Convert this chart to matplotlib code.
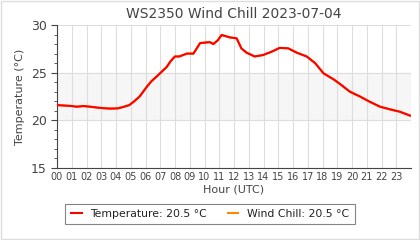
import numpy as np
import matplotlib
matplotlib.use('Agg')
import matplotlib.pyplot as plt
from matplotlib.ticker import MultipleLocator

# readings (hour of day, temperature in deg C)
hours = [0.0, 0.5, 1.0, 1.33, 1.8, 2.4, 2.92, 3.6, 4.1, 4.5, 4.9, 5.2, 5.6,
         6.08, 6.4, 6.76, 7.1, 7.44, 7.7, 8.0, 8.3, 8.8, 9.25, 9.7, 10.0,
         10.37, 10.6, 10.9, 11.16, 11.5, 11.73, 12.18, 12.5, 12.85, 13.4,
         13.97, 14.55, 15.1, 15.68, 16.25, 16.93, 17.5, 18.07, 18.75, 19.2,
         19.86, 20.54, 21.2, 21.9, 22.58, 23.25, 23.93]
temperature = [21.6, 21.55, 21.5, 21.43, 21.5, 21.4, 21.3, 21.23, 21.25, 21.4,
               21.6, 21.95, 22.5, 23.5, 24.1, 24.6, 25.1, 25.6, 26.2, 26.7,
               26.7, 27.0, 27.0, 28.1, 28.15, 28.2, 28.0, 28.4, 28.95, 28.8,
               28.7, 28.6, 27.55, 27.1, 26.7, 26.85, 27.2, 27.6, 27.55, 27.1,
               26.7, 26.0, 24.93, 24.3, 23.8, 23.0, 22.5, 21.95, 21.43, 21.15,
               20.9, 20.5]
wind_chill = list(temperature)
hour_labels = ['%02d' % h for h in range(24)]

fig = plt.figure(figsize=(4.2, 2.4), dpi=100)
ax = fig.add_axes([57 / 420, 1 - 168 / 240, 354 / 420, 143 / 240])

ax.axhspan(20, 25, color='#f6f6f6', zorder=0)
ax.plot(hours, wind_chill, color='#ff8800', lw=1.5, zorder=2,
        label='Wind Chill: %.1f °C' % wind_chill[-1])
ax.plot(hours, temperature, color='#ff0000', lw=1.5, zorder=3,
        label='Temperature: %.1f °C' % temperature[-1])

ax.set_xlim(0, 24)
ax.set_ylim(15, 30)
ax.set_xticks(range(24))
ax.set_xticklabels(hour_labels, fontsize=7, color='#444444')
ax.set_yticks([15, 20, 25, 30])
ax.yaxis.set_minor_locator(MultipleLocator(1))
ax.tick_params(axis='y', labelsize=9, colors='#444444', length=4)
ax.tick_params(axis='y', which='minor', length=2, color='#444444')
ax.tick_params(axis='x', length=0, pad=3)
ax.grid(True, axis='x', color='#dddddd', lw=0.8)
ax.grid(True, axis='y', color='#dddddd', lw=0.8)
ax.set_axisbelow(True)
for s in ['top', 'right']:
    ax.spines[s].set_visible(False)
for s in ['left', 'bottom']:
    ax.spines[s].set_color('#444444')

ax.set_xlabel('Hour (UTC)', fontsize=8, color='#444444', labelpad=2)
ax.set_ylabel('Temperature (°C)', fontsize=8, color='#444444')
ax.set_title('WS2350 Wind Chill 2023-07-04', fontsize=10, color='#444444', pad=5)

h, l = ax.get_legend_handles_labels()
leg = fig.legend(h[::-1], l[::-1], loc='center', bbox_to_anchor=(210 / 420, 1 - 214 / 240),
                 ncol=2, fontsize=7.8, frameon=True, fancybox=False,
                 handlelength=1.0, columnspacing=1.9, borderpad=0.5,
                 handletextpad=0.8)
leg.get_frame().set_edgecolor('#666666')
leg.get_frame().set_linewidth(0.8)
for t in leg.get_texts():
    t.set_color('#222222')

fig.patches.append(plt.Rectangle((0.002, 0.004), 0.996, 0.992, transform=fig.transFigure,
                                 fill=False, edgecolor='#dddddd', lw=1))

fig.savefig('out.png', dpi=100)
